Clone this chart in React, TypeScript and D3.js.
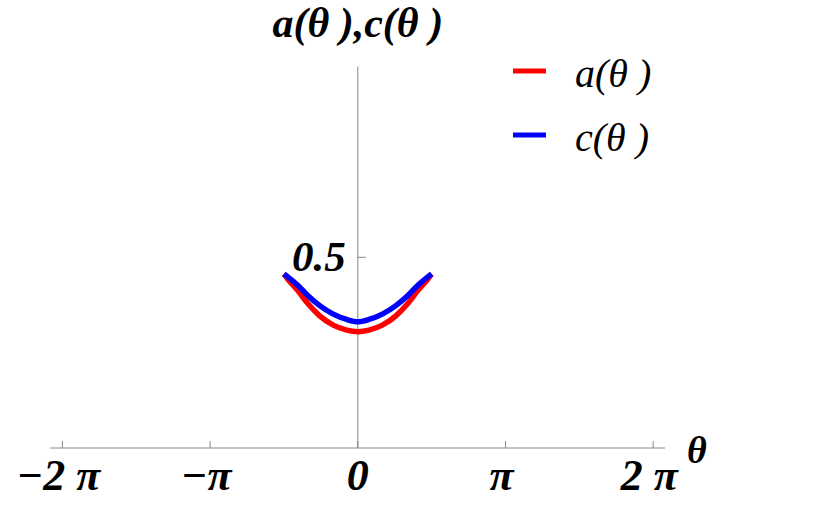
import { useEffect, useRef } from 'react'
import * as d3 from 'd3'

// theta in units of pi
const thetaPi = [-0.5, -0.472, -0.405, -0.337, -0.26, -0.166, -0.075, 0, 0.075, 0.166, 0.26, 0.337, 0.405, 0.472, 0.5]
const aValues = [0.456, 0.442, 0.412, 0.378, 0.347, 0.322, 0.309, 0.305, 0.309, 0.322, 0.347, 0.378, 0.412, 0.442, 0.456]
const cValues = [0.456, 0.448, 0.426, 0.399, 0.374, 0.351, 0.337, 0.331, 0.337, 0.351, 0.374, 0.399, 0.426, 0.448, 0.456]

const xTicks = [-2, -1, 0, 1, 2]
const xTickLabels = ['\u22122 \u03c0', '\u2212\u03c0', '0', '\u03c0', '2 \u03c0']
const yTicks = [0.5]
const yTickLabels = ['0.5']

const series = [
  { name: 'a(\u03b8 )', values: aValues, color: '#ff0000' },
  { name: 'c(\u03b8 )', values: cValues, color: '#0000ff' },
]

export default function App() {
  const svgRef = useRef<SVGSVGElement>(null)

  useEffect(() => {
    if (!svgRef.current) return
    document.body.style.margin = '0'
    const width = 830
    const height = 521
    const svg = d3.select(svgRef.current)
    svg.selectAll('*').remove()
    svg.attr('width', width).attr('height', height)

    const font = "'Liberation Serif', 'Times New Roman', serif"
    const axisColor = '#888888'

    const x = d3.scaleLinear().domain([-2.084, 2.08]).range([50, 665])
    const y = d3.scaleLinear().domain([0, 1.0]).range([448, 66.6])

    // x axis
    svg.append('line')
      .attr('x1', x.range()[0]).attr('x2', x.range()[1])
      .attr('y1', y(0)).attr('y2', y(0))
      .attr('stroke', axisColor).attr('stroke-width', 1)

    svg.selectAll('.xtick')
      .data(xTicks)
      .enter()
      .append('line')
      .attr('x1', d => x(d)).attr('x2', d => x(d))
      .attr('y1', y(0)).attr('y2', y(0) - 7)
      .attr('stroke', axisColor).attr('stroke-width', 1)

    svg.selectAll('.xlabel')
      .data(xTicks)
      .enter()
      .append('text')
      .attr('x', d => x(d) - (d === 0 ? 0 : 4))
      .attr('y', 490)
      .attr('text-anchor', 'middle')
      .attr('font-family', font)
      .attr('font-size', '44px')
      .attr('font-weight', 'bold')
      .attr('font-style', 'italic')
      .attr('fill', '#000')
      .text((_, i) => xTickLabels[i])

    // y axis
    svg.append('line')
      .attr('x1', x(0)).attr('x2', x(0))
      .attr('y1', y.range()[0]).attr('y2', y.range()[1])
      .attr('stroke', axisColor).attr('stroke-width', 1)

    svg.selectAll('.ytick')
      .data(yTicks)
      .enter()
      .append('line')
      .attr('x1', x(0)).attr('x2', x(0) + 8)
      .attr('y1', d => y(d)).attr('y2', d => y(d))
      .attr('stroke', axisColor).attr('stroke-width', 1)

    svg.selectAll('.ylabel')
      .data(yTicks)
      .enter()
      .append('text')
      .attr('x', x(0) - 12)
      .attr('y', d => y(d) + 14)
      .attr('text-anchor', 'end')
      .attr('font-family', font)
      .attr('font-size', '43px')
      .attr('font-weight', 'bold')
      .attr('font-style', 'italic')
      .attr('fill', '#000')
      .text((_, i) => yTickLabels[i])

    // axis labels
    svg.append('text')
      .attr('x', x(0))
      .attr('y', 37)
      .attr('text-anchor', 'middle')
      .attr('font-family', font)
      .attr('font-size', '42px')
      .attr('font-weight', 'bold')
      .attr('font-style', 'italic')
      .text('a(\u03b8 ),c(\u03b8 )')

    svg.append('text')
      .attr('x', 687)
      .attr('y', 463)
      .attr('font-family', font)
      .attr('font-size', '38px')
      .attr('font-weight', 'bold')
      .attr('font-style', 'italic')
      .text('\u03b8')

    // curves
    const line = d3.line<number>()
      .x((_, i) => x(thetaPi[i]))
      .y(d => y(d))
      .curve(d3.curveMonotoneX)

    svg.selectAll('.curve')
      .data(series)
      .enter()
      .append('path')
      .attr('d', d => line(d.values))
      .attr('fill', 'none')
      .attr('stroke', d => d.color)
      .attr('stroke-width', 5.5)
      .attr('stroke-linejoin', 'round')

    // legend
    const legend = svg.selectAll('.legend')
      .data(series)
      .enter()
      .append('g')
      .attr('transform', (_, i) => `translate(0,${i * 64})`)

    legend.append('line')
      .attr('x1', 513).attr('x2', 546)
      .attr('y1', 71).attr('y2', 71)
      .attr('stroke', d => d.color)
      .attr('stroke-width', 5)

    legend.append('text')
      .attr('x', 575)
      .attr('y', 87)
      .attr('font-family', font)
      .attr('font-size', '40px')
      .attr('font-style', 'italic')
      .text(d => d.name)
  }, [])

  return <svg ref={svgRef} style={{ display: 'block' }} />
}
